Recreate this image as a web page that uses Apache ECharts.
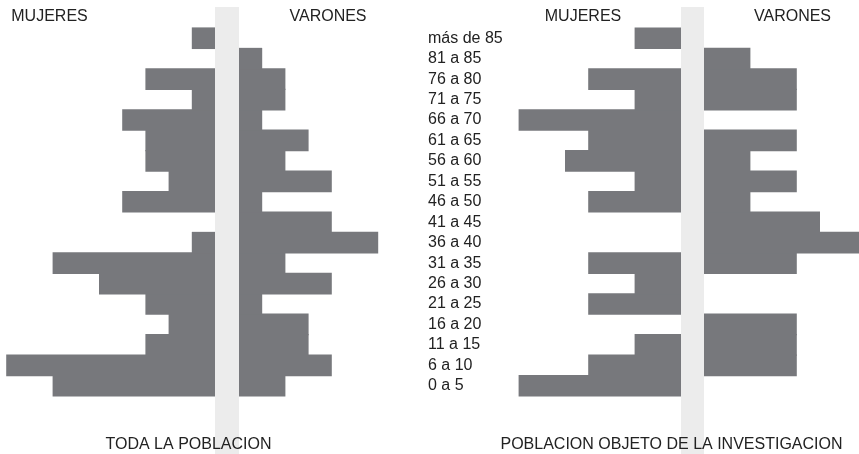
<!DOCTYPE html>
<html>
<head>
<meta charset="utf-8">
<script src="https://cdn.jsdelivr.net/npm/echarts@6/dist/echarts.min.js"></script>
<style>
html,body{margin:0;padding:0;background:#fff;}
#c{width:859px;height:454px;}
</style>
</head>
<body>
<div id="c"></div>
<script>
// Age groups, bottom to top
const categories = ["0 a 5","6 a 10","11 a 15","16 a 20","21 a 25","26 a 30","31 a 35","36 a 40","41 a 45","46 a 50","51 a 55","56 a 60","61 a 65","66 a 70","71 a 75","76 a 80","81 a 85","más de 85"];
// TODA LA POBLACION
const totalMujeres = [7,9,3,2,3,5,7,1,0,4,2,3,3,4,1,3,0,1];
const totalVarones = [2,4,3,3,1,4,2,6,4,1,4,2,3,1,2,2,1,0];
// POBLACION OBJETO DE LA INVESTIGACION
const objetoMujeres = [7,4,2,0,4,2,4,0,0,4,2,5,4,7,2,4,0,2];
const objetoVarones = [0,4,4,4,0,0,4,7,5,2,4,2,4,0,4,4,2,0];

const titlesTop = ["MUJERES","VARONES","MUJERES","VARONES"];
const titlesBottom = ["TODA LA POBLACION","POBLACION OBJETO DE LA INVESTIGACION"];

const U = 23.2;
const TOP = 28, H = 368;
const FONT = '"Liberation Sans", Arial, sans-serif';
const BAR = '#77787c';
const BAND = '#ececec';
const TXT = '#222222';

const grids = [
  {left: 0, top: TOP, width: 215, height: H},
  {left: 239, top: TOP, width: 10*U, height: H},
  {left: 681 - 10*U, top: TOP, width: 10*U, height: H},
  {left: 704, top: TOP, width: 155, height: H},
  {left: 428, top: TOP, width: 1, height: H}
];
const xMax = [215/U, 10, 10, 155/U, 1];
const xInv = [true, false, true, false, false];

const xAxes = grids.map((g,i)=>({
  gridIndex: i, type: 'value', min: 0, max: xMax[i], inverse: xInv[i], show: false
}));
const yAxes = grids.map((g,i)=>({
  gridIndex: i, type: 'category', data: categories, show: i === 4,
  axisLine: {show: false, onZero: false}, axisTick: {show: false}, splitLine: {show: false},
  axisLabel: {show: i === 4, interval: 0, margin: 0, align: 'left', fontSize: 16, fontFamily: FONT, color: TXT}
}));
const dataSets = [totalMujeres, totalVarones, objetoMujeres, objetoVarones];
const series = dataSets.map((d,i)=>({
  type: 'bar', xAxisIndex: i, yAxisIndex: i,
  data: d.map(v => v === 0 ? '-' : v),
  barWidth: H / categories.length + 1.2,
  itemStyle: {color: BAR},
  silent: true, clip: false, animation: false
}));

const topX = [49.5, 328, 583, 792.5];
const bottomX = [188.5, 671.5];
const graphic = [
  {type: 'rect', z: -10, shape: {x: 215, y: 7, width: 24, height: 447}, style: {fill: BAND}},
  {type: 'rect', z: -10, shape: {x: 681, y: 7, width: 23, height: 447}, style: {fill: BAND}}
];
titlesTop.forEach((t,i)=>graphic.push({type:'text', z: 10, x: topX[i], y: 17,
  style:{text:t, fill:TXT, font:'16px ' + FONT, textAlign:'center', textVerticalAlign:'middle'}}));
titlesBottom.forEach((t,i)=>graphic.push({type:'text', z: 10, x: bottomX[i], y: 445,
  style:{text:t, fill:TXT, font:'16px ' + FONT, textAlign:'center', textVerticalAlign:'middle'}}));

const chart = echarts.init(document.getElementById('c'), null, {renderer: 'canvas'});
chart.setOption({
  animation: false,
  backgroundColor: '#ffffff',
  grid: grids.map(g=>Object.assign({containLabel:false}, g)),
  xAxis: xAxes,
  yAxis: yAxes,
  series: series,
  graphic: graphic
});
</script>
</body>
</html>
